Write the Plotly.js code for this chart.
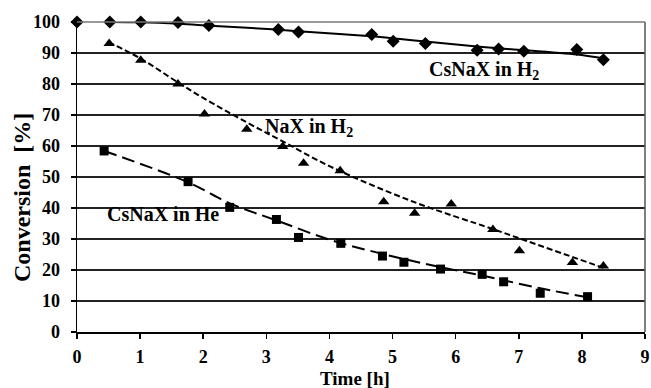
<!DOCTYPE html>
<html>
<head>
<meta charset="utf-8">
<script src="https://cdn.plot.ly/plotly-3.0.1.min.js"></script>
<style>html,body{margin:0;padding:0;background:#fff;}#chart{width:651px;height:388px;}</style>
</head>
<body>
<div id="chart"></div>
<script>
// CsNaX in H2 (diamonds)
var csH2_t = [0, 0.52, 1.01, 1.6, 2.09, 3.19, 3.51, 4.67, 5.01, 5.52, 6.34, 6.68, 7.08, 7.92, 8.34];
var csH2_y = [100, 100, 100, 99.8, 98.9, 97.6, 96.8, 96.0, 93.8, 93.1, 90.9, 91.3, 90.6, 91.1, 87.8];
// NaX in H2 (triangles)
var naH2_t = [0.51, 1.01, 1.6, 2.02, 2.69, 3.26, 3.59, 4.17, 4.86, 5.35, 5.93, 6.59, 7.01, 7.85, 8.34];
var naH2_y = [93.1, 87.7, 80, 70.3, 65.4, 59.8, 54.4, 52, 42, 38.3, 41.3, 33.1, 26.2, 22.4, 21.3];
// CsNaX in He (squares)
var csHe_t = [0.43, 1.76, 2.42, 3.16, 3.51, 4.18, 4.84, 5.18, 5.76, 6.42, 6.76, 7.34, 8.09];
var csHe_y = [58.4, 48.5, 40.2, 36.3, 30.5, 28.6, 24.5, 22.5, 20.3, 18.6, 16.2, 12.5, 11.4];
// trend lines
var trendCsH2_t = [0.5, 1.0, 1.63, 2.11, 3.16, 3.51, 4.67, 5.12, 5.52, 6.34, 6.68, 7.1, 7.92, 8.34];
var trendCsH2_y = [100, 99.9, 99.4, 98.8, 97.6, 97.0, 95.4, 94.5, 93.7, 92.1, 91.5, 90.9, 89.5, 88.3];
var trendNa_t = [0.5, 1.0, 1.6, 2.0, 2.7, 3.26, 4.0, 5.33, 6.59, 7.01, 8.34];
var trendNa_y = [93.5, 88.3, 80.5, 75.5, 67.5, 61.5, 53.5, 42.0, 33.2, 30.2, 20.7];
var trendHe_t = [0.43, 1.76, 2.42, 3.16, 4.0, 4.84, 5.76, 6.42, 7.34, 8.09];
var trendHe_y = [58.4, 48.3, 41.5, 36.0, 29.8, 25.2, 20.9, 18.2, 14.1, 11.2];

var xTicks = [0,1,2,3,4,5,6,7,8,9];
var yTicks = [0,10,20,30,40,50,60,70,80,90,100];

var font = 'Liberation Serif';

var traces = [
  {x: trendCsH2_t, y: trendCsH2_y, mode:'lines', line:{color:'#000', width:2, shape:'spline', smoothing:0.8}, hoverinfo:'skip'},
  {x: trendNa_t, y: trendNa_y, mode:'lines', line:{color:'#000', width:2, dash:'6px,3px', shape:'spline'}, hoverinfo:'skip'},
  {x: trendHe_t, y: trendHe_y, mode:'lines', line:{color:'#000', width:2, dash:'13px,6px', shape:'spline'}, hoverinfo:'skip'},
  {x: csH2_t, y: csH2_y, mode:'markers', marker:{symbol:'diamond', size:10, color:'#000'}, cliponaxis:false},
  {x: naH2_t, y: naH2_y, mode:'markers', marker:{symbol:'triangle-up', size:10, color:'#000'}, cliponaxis:false},
  {x: csHe_t, y: csHe_y, mode:'markers', marker:{symbol:'square', size:9, color:'#000'}, cliponaxis:false}
];

var ML = 77, MR = 6, MT = 22, MB = 56, W = 651, H = 388;
var plotW = W-ML-MR, plotH = H-MT-MB;
function px2paperX(px){ return (px-ML)/plotW; }
function px2paperY(py){ return (H-MB-py)/plotH; }

var layout = {
  width: W, height: H,
  margin: {l:ML, r:MR, t:MT, b:MB},
  paper_bgcolor:'#fff', plot_bgcolor:'#fff',
  showlegend:false,
  font:{family:font, color:'#000', size:16},
  xaxis:{range:[0,9], tickmode:'array', tickvals:xTicks, ticktext:xTicks.map(String), showgrid:false, zeroline:false,
    showline:true, linecolor:'#000', linewidth:1.5, ticks:'outside', ticklen:5, tickwidth:1.5, tickcolor:'#000',
    ticklabelstandoff:3,
    tickfont:{family:font, size:18, color:'#000', weight:700}},
  yaxis:{range:[0,100], tickmode:'array', tickvals:yTicks, ticktext:yTicks.map(String), showgrid:true, gridcolor:'#222', gridwidth:1.2,
    zeroline:false, showline:true, linecolor:'#000', linewidth:1.5, ticks:'outside', ticklen:5, tickwidth:1.5, tickcolor:'#000',
    ticklabelstandoff:7,
    tickfont:{family:font, size:18, color:'#000', weight:700}},
  shapes:[
    {type:'line', xref:'paper', yref:'paper', x0:1, x1:1, y0:0, y1:1, line:{color:'#555', width:1.5}},
    {type:'line', xref:'paper', yref:'paper', x0:0, x1:1, y0:1, y1:1, line:{color:'#777', width:1.5}}
  ],
  annotations:[
    {x:px2paperX(22), y:px2paperY(198), xref:'paper', yref:'paper', xanchor:'center', yanchor:'middle',
     text:'Conversion  [%]', textangle:-90, showarrow:false,
     font:{family:font, size:24, color:'#000', weight:700}},
    {x:px2paperX(355), y:px2paperY(378), xref:'paper', yref:'paper', xanchor:'center', yanchor:'middle',
     text:'Time [h]', showarrow:false, font:{family:font, size:19, color:'#000', weight:700}},
    {x:6.45, y:84.3, xref:'x', yref:'y', text:'CsNaX in H<sub>2</sub>', showarrow:false, font:{family:font, size:20, color:'#000', weight:700}},
    {x:3.67, y:66.0, xref:'x', yref:'y', text:'NaX in H<sub>2</sub>', showarrow:false, font:{family:font, size:20, color:'#000', weight:700}},
    {x:1.355, y:38.2, xref:'x', yref:'y', text:'CsNaX in He', showarrow:false, font:{family:font, size:20, color:'#000', weight:700}}
  ]
};

Plotly.newPlot('chart', traces, layout, {displayModeBar:false, staticPlot:true});
</script>
</body>
</html>
